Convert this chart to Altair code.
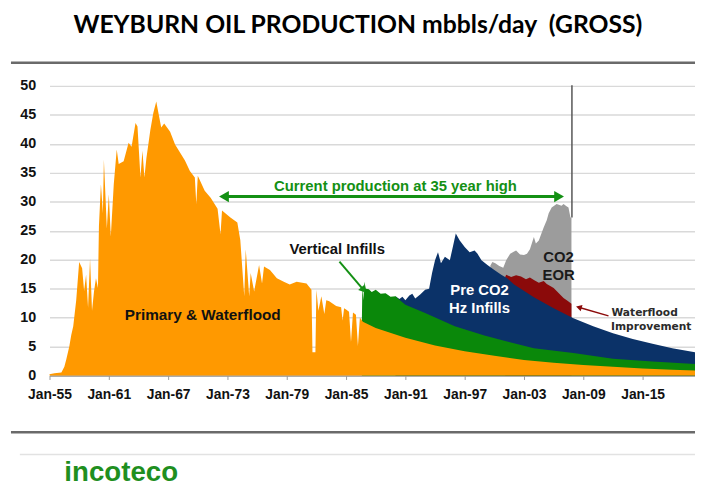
import altair as alt
import pandas as pd

# ---------------- data (mbbls/day, cumulative band tops) ----------------
PRIMARY_YEAR = [1955.0, 1955.5, 1956.2, 1956.5, 1956.7, 1957.0, 1957.2, 1957.4, 1957.7, 1958.0,
                1958.3, 1958.5, 1958.7, 1958.9, 1959.1, 1959.3, 1959.5, 1959.7, 1959.9, 1960.0,
                1960.2, 1960.4, 1960.5, 1960.8, 1961.0, 1961.2, 1961.5, 1961.8, 1962.0, 1962.5,
                1963.0, 1963.3, 1963.7, 1963.9, 1964.2, 1964.4, 1964.6, 1964.8, 1965.2, 1965.5,
                1965.8, 1966.0, 1966.3, 1966.6, 1967.2, 1967.7, 1968.2, 1968.7, 1969.2, 1969.7,
                1969.85, 1970.0, 1970.7, 1971.3, 1972.0, 1972.3, 1972.45, 1973.3, 1974.0, 1974.3,
                1974.7, 1974.85, 1975.2, 1975.35, 1975.7, 1976.2, 1976.5, 1976.7, 1977.3, 1978.0,
                1978.7, 1979.3, 1980.0, 1981.0, 1981.5, 1981.6, 1981.9, 1982.0, 1982.2, 1982.5,
                1982.8, 1983.0, 1983.3, 1984.0, 1984.5, 1984.65, 1984.8, 1985.0, 1985.3, 1985.5,
                1985.7, 1986.0, 1986.2, 1986.4, 1986.7, 1988.0, 1991.0, 1994.0, 1997.0, 2000.0,
                2003.0, 2006.0, 2009.0, 2012.0, 2015.0, 2018.0, 2020.3]
PRIMARY_TOP = [0.2, 0.4, 0.5, 1.5, 2.8, 5.0, 7.0, 8.5, 13.0, 19.6,
               18.5, 14.6, 17.4, 11.7, 20.2, 11.2, 14.5, 16.8, 15.1, 25.8,
               33.0, 28.0, 37.3, 25.4, 31.3, 24.0, 33.0, 39.0, 36.5, 37.0,
               40.2, 39.5, 43.6, 43.0, 34.2, 38.8, 34.2, 37.5, 42.4, 45.3,
               47.3, 45.5, 42.8, 43.5, 42.1, 39.9, 38.5, 37.1, 35.3, 34.2,
               29.6, 34.5, 31.9, 30.7, 28.8, 24.4, 28.5, 27.3, 26.4, 23.4,
               13.7, 21.8, 13.7, 17.7, 14.5, 19.1, 15.9, 18.8, 18.2, 16.8,
               16.2, 15.7, 16.2, 15.9, 14.8, 4.0, 4.0, 14.8, 11.2, 13.7,
               10.6, 13.0, 12.8, 12.0, 11.8, 9.5, 11.6, 11.4, 11.0, 5.8,
               10.9, 10.5, 5.1, 10.0, 9.3, 8.2, 6.5, 5.2, 4.2, 3.4,
               2.7, 2.2, 1.8, 1.5, 1.2, 1.0, 0.85]

VERTICAL_YEAR = [1986.6, 1986.65, 1986.75, 1986.85, 1987.0, 1987.3, 1987.6, 1988.0, 1988.5, 1989.0,
                 1989.5, 1990.0, 1990.3, 1991.0, 1993.0, 1996.0, 1999.0, 2001.0, 2004.0, 2008.0,
                 2012.0, 2016.0, 2020.3]
VERTICAL_TOP = [9.4, 15.5, 13.0, 16.2, 15.0, 14.9, 14.4, 14.8, 14.1, 14.2,
                13.6, 13.7, 13.2, 12.2, 10.8, 8.5, 6.9, 6.0, 4.7, 3.9,
                2.9, 2.4, 2.0]

HZ_YEAR = [1990.0, 1990.4, 1990.7, 1991.0, 1991.4, 1991.7, 1992.0, 1992.5, 1993.0, 1993.4,
           1993.7, 1994.0, 1994.3, 1994.6, 1995.0, 1995.5, 1995.8, 1996.1, 1996.5, 1997.0,
           1997.5, 1998.0, 1998.3, 1998.7, 1999.3, 2000.0, 2000.7, 2001.3, 2002.0, 2004.0,
           2006.0, 2008.0, 2010.0, 2012.0, 2014.0, 2016.0, 2018.0, 2020.3]
HZ_TOP = [13.7, 13.2, 13.6, 13.0, 13.8, 14.1, 13.3, 14.0, 14.8, 15.0,
          17.7, 19.9, 21.3, 19.4, 20.5, 19.9, 22.2, 24.5, 23.3, 22.2,
          21.3, 21.6, 21.0, 19.9, 19.1, 18.2, 17.4, 16.8, 15.7, 13.5,
          11.6, 9.9, 8.5, 7.3, 6.3, 5.5, 4.7, 4.0]

WATERFLOOD_YEAR = [2001.1, 2001.2, 2001.7, 2002.2, 2002.7, 2003.2, 2003.6, 2004.0, 2004.5, 2005.0,
                   2005.3, 2005.7, 2006.0, 2006.4, 2006.7, 2007.0, 2007.4, 2007.8]
WATERFLOOD_TOP = [17.0, 17.4, 17.0, 17.3, 17.1, 16.6, 16.9, 16.5, 16.0, 16.3,
                  15.8, 15.4, 15.1, 14.4, 13.9, 13.4, 12.9, 12.4]

CO2_YEAR = [1999.6, 1999.8, 2000.1, 2000.5, 2000.9, 2001.2, 2001.6, 2002.0, 2002.2, 2002.6,
            2003.0, 2003.3, 2003.6, 2004.0, 2004.2, 2004.5, 2005.0, 2005.3, 2005.5, 2005.8,
            2006.3, 2006.8, 2007.0, 2007.3, 2007.5, 2007.7, 2007.8]
CO2_TOP = [19.0, 19.6, 19.4, 18.9, 18.6, 19.9, 21.0, 21.4, 21.6, 20.9,
           20.8, 21.0, 21.8, 23.9, 22.8, 23.3, 25.6, 26.8, 28.0, 29.0,
           29.6, 29.3, 29.6, 29.2, 29.0, 27.3, 27.3]

SPIKE_YEAR = [2007.85]
SPIKE_FROM = [27.3]
SPIKE_TO = [50.1]

TICK_YEARS = [1955, 1961, 1967, 1973, 1979, 1985, 1991, 1997, 2003, 2009, 2015]
Y_TICKS = [0, 5, 10, 15, 20, 25, 30, 35, 40, 45, 50]

TITLE = "WEYBURN OIL PRODUCTION mbbls/day\u00a0 (GROSS)"

ORANGE = "#FF9900"
GREEN = "#0A880A"
NAVY = "#0B3268"
DARKRED = "#8B0A0A"
GRAY = "#9C9C9C"
TEXT_GREEN = "#149014"

FONT = "Liberation Sans"
W, H = 653, 293

# ---------------- encodings ----------------
def xenc(field="year"):
    return alt.X(
        f"{field}:Q",
        scale=alt.Scale(domain=[1955, 2020.3], nice=False, zero=False),
        axis=alt.Axis(values=TICK_YEARS, title=None, grid=False,
                      labelExpr="'Jan-' + substring(toString(datum.value), 2, 4)",
                      domainColor="#9a9a9a", domainWidth=1.5, tickColor="#9a9a9a", tickSize=4,
                      labelFont=FONT, labelFontSize=14, labelFontWeight="bold", labelColor="#111111",
                      labelPadding=8, labelOverlap=False, labelFlush=False),
    )


def yenc(field="top"):
    return alt.Y(
        f"{field}:Q", stack=None,
        scale=alt.Scale(domain=[0, 50], nice=False, zero=True),
        axis=alt.Axis(values=Y_TICKS, title=None, grid=True, gridColor="#d9d9d9", gridWidth=1.5,
                      domain=False, ticks=False, labelPadding=14,
                      labelFont=FONT, labelFontSize=14.5, labelFontWeight="bold", labelColor="#111111"),
    )


def area(years, tops, color):
    df = pd.DataFrame({"year": years, "top": tops})
    return alt.Chart(df).mark_area(color=color, interpolate="linear").encode(x=xenc(), y=yenc())


layers = [
    area(CO2_YEAR, CO2_TOP, GRAY),
    area(WATERFLOOD_YEAR, WATERFLOOD_TOP, DARKRED),
    area(HZ_YEAR, HZ_TOP, NAVY),
    area(VERTICAL_YEAR, VERTICAL_TOP, GREEN),
    area(PRIMARY_YEAR, PRIMARY_TOP, ORANGE),
]

spike_df = pd.DataFrame({"year": SPIKE_YEAR, "top": SPIKE_FROM, "end": SPIKE_TO})
layers.append(alt.Chart(spike_df).mark_rule(color="#555555", strokeWidth=1.5).encode(
    x=xenc(), y=yenc(), y2="end:Q"))


# ---------------- annotations (data coordinates) ----------------
def label(text, year, val, color="#111111", size=15, align="center", font=FONT, weight="bold"):
    df = pd.DataFrame({"year": [year], "top": [val], "t": [text]})
    return alt.Chart(df).mark_text(color=color, fontSize=size, align=align, baseline="middle",
                                   font=font, fontWeight=weight).encode(x=xenc(), y=yenc(), text="t:N")


def arrow_line(x0, y0, x1, y1, color, width):
    df = pd.DataFrame({"year": [x0], "top": [y0], "x1": [x1], "y1": [y1]})
    return alt.Chart(df).mark_rule(color=color, strokeWidth=width).encode(
        x=xenc(), y=yenc(), x2="x1:Q", y2="y1:Q")


def head(x, y, shape, angle, color, size):
    df = pd.DataFrame({"year": [x], "top": [y]})
    return alt.Chart(df).mark_point(shape=shape, angle=angle, filled=True, opacity=1,
                                    color=color, size=size, strokeWidth=0).encode(x=xenc(), y=yenc())


layers += [
    label("Primary & Waterflood", 1970.5, 10.5, size=15.5),
    label("Current production at 35 year high", 1990.0, 32.75, color=TEXT_GREEN, size=15),
    arrow_line(1972.8, 30.9, 2006.4, 30.9, TEXT_GREEN, 3),
    head(1972.65, 30.9, "triangle-left", 0, TEXT_GREEN, 130),
    head(2006.55, 30.9, "triangle-right", 0, TEXT_GREEN, 130),
    label("Vertical Infills", 1984.1, 21.8),
    arrow_line(1984.33, 19.65, 1986.7, 14.9, TEXT_GREEN, 2),
    head(1986.74, 14.76, "triangle-right", 50, TEXT_GREEN, 60),
    label("Pre CO2", 1998.5, 14.8, color="#ffffff"),
    label("Hz Infills", 1998.5, 11.7, color="#ffffff"),
    label("CO2", 2006.5, 20.5, color="#1a1a1a"),
    label("EOR", 2006.5, 17.4, color="#1a1a1a"),
    label("Waterflood", 2011.85, 10.85, color="#2b2b2b", size=10.8, align="left", font="DejaVu Sans"),
    label("Improvement", 2011.8, 8.4, color="#2b2b2b", size=10.8, align="left", font="DejaVu Sans"),
    arrow_line(2011.55, 10.3, 2008.7, 11.7, DARKRED, 1.5),
    head(2008.55, 11.77, "triangle-left", 16, DARKRED, 45),
]

# ---------------- page decorations (pixel offsets from the plot origin) ----------------
one = pd.DataFrame({"k": [0]})
layers += [
    alt.Chart(one).mark_text(text=TITLE, font="Lato", fontSize=25, fontWeight="bold", color="#000000",
                             align="center", baseline="alphabetic").encode(
        x=alt.value(312), y=alt.value(-53)),
    alt.Chart(one).mark_rule(color="#6a6a6a", strokeWidth=2.5).encode(
        x=alt.value(-39), x2=alt.value(W), y=alt.value(-23.5)),
    alt.Chart(one).mark_rule(color="#6a6a6a", strokeWidth=2.5).encode(
        x=alt.value(-39), x2=alt.value(W), y=alt.value(350.5)),
    alt.Chart(one).mark_rule(color="#e2e2e2", strokeWidth=1.5).encode(
        x=alt.value(-30), x2=alt.value(W), y=alt.value(373)),
    alt.Chart(one).mark_text(text="incoteco", font=FONT, fontSize=28, fontWeight="bold", color="#1f8f1f",
                             align="left", baseline="alphabetic").encode(
        x=alt.value(15), y=alt.value(400)),
]

chart = alt.layer(*layers).properties(
    width=W, height=H,
    autosize=alt.AutoSizeParams(type="none"),
    padding={"left": 42, "top": 76, "right": 0, "bottom": 111},
    background="#ffffff",
).configure_view(stroke=None)

chart.save("out.html", embed_options={"renderer": "svg", "actions": False})
